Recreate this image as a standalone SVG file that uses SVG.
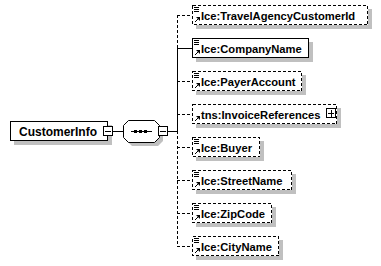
<svg xmlns="http://www.w3.org/2000/svg" width="381" height="266" viewBox="0 0 381 266">
<defs>
<style>
.shadow{fill:#c0c0c0;stroke:none}
.box{fill:#fff;stroke:#000;stroke-width:1;shape-rendering:crispEdges}
.opt{stroke-dasharray:3,2}
.ln{stroke:#000;stroke-width:1;fill:none;shape-rendering:crispEdges}
.dash{stroke-dasharray:3,2}
.lbl{font-family:"Liberation Sans",Arial,sans-serif;font-weight:bold;font-size:11.2px;fill:#000}
.ic{stroke:#000;stroke-width:1;fill:none;shape-rendering:crispEdges}
</style>
<g id="doc-icon"><path class="ic" d="M2,2.5h5M2,4.5h5M2,6.5h5"/></g>
<g id="ref-icon"><path class="ic" d="M2.5,17.5l4,-4"/><path d="M4,12h4v4z" fill="#000"/></g>
<g id="minus"><rect x="0.5" y="0.5" width="9" height="9" fill="#fff" stroke="#000" shape-rendering="crispEdges"/><path d="M2,5.5h6" stroke="#000" shape-rendering="crispEdges"/></g>
</defs>
<rect width="381" height="266" fill="#fff"/>

<g id="connectors">
<path class="ln" d="M113,131.5H123"/>
<path class="ln" d="M168,131.5H177"/>
<path class="ln dash" d="M177.5,15V48"/>
<path class="ln" d="M177.5,48V131"/>
<path class="ln dash" d="M177.5,131V246.5"/>
<path class="ln dash" d="M177,15.5H192"/>
<path class="ln" d="M177,48.5H192"/>
<path class="ln dash" d="M177,81.5H192"/>
<path class="ln dash" d="M177,114.5H192"/>
<path class="ln dash" d="M177,147.5H192"/>
<path class="ln dash" d="M177,180.5H192"/>
<path class="ln dash" d="M177,213.5H192"/>
<path class="ln dash" d="M177,246.5H192"/>
</g>

<g id="node-CustomerInfo">
<rect class="shadow" x="14" y="125" width="98" height="20"/>
<rect class="box" x="10.5" y="121.5" width="97" height="19"/>
<text class="lbl" x="19" y="135.5" style="font-size:12px">CustomerInfo</text>
<use href="#minus" x="103" y="126"/>
</g>

<g id="node-sequence">
<polygon class="shadow" points="132,124 158,124 163,129 163,141 158,146 132,146 127,141 127,129"/>
<polygon points="128.5,120.5 154.5,120.5 159.5,125.5 159.5,137.5 154.5,142.5 128.5,142.5 123.5,137.5 123.5,125.5" fill="#fff" stroke="#000"/>
<path class="ln" d="M131,131.5H152"/>
<rect x="134" y="130" width="3" height="3" fill="#000"/>
<rect x="139" y="130" width="3" height="3" fill="#000"/>
<rect x="144" y="130" width="3" height="3" fill="#000"/>
<use href="#minus" x="158" y="126"/>
</g>

<g id="node-TravelAgencyCustomerId">
<rect class="shadow" x="196" y="9" width="176" height="20"/>
<rect class="box opt" x="192.5" y="5.5" width="175" height="19"/>
<use href="#doc-icon" x="192" y="5"/><use href="#ref-icon" x="192" y="5"/>
<text class="lbl" x="201" y="19.5">Ice:TravelAgencyCustomerId</text>
</g>

<g id="node-CompanyName">
<rect class="shadow" x="196" y="42" width="117" height="20"/>
<rect class="box" x="192.5" y="38.5" width="116" height="19"/>
<use href="#doc-icon" x="192" y="38"/><use href="#ref-icon" x="192" y="38"/>
<text class="lbl" x="201" y="52.5">Ice:CompanyName</text>
</g>

<g id="node-PayerAccount">
<rect class="shadow" x="196" y="75" width="110" height="20"/>
<rect class="box opt" x="192.5" y="71.5" width="109" height="19"/>
<use href="#doc-icon" x="192" y="71"/><use href="#ref-icon" x="192" y="71"/>
<text class="lbl" x="201" y="85.5">Ice:PayerAccount</text>
</g>

<g id="node-InvoiceReferences">
<rect class="shadow" x="196" y="108" width="145" height="20"/>
<rect class="box opt" x="192.5" y="104.5" width="144" height="19"/>
<use href="#ref-icon" x="192" y="104"/>
<text class="lbl" x="201" y="118.5">tns:InvoiceReferences</text>
<rect x="326.5" y="108.5" width="9" height="9" fill="#fff" stroke="#000" shape-rendering="crispEdges"/>
<path d="M328,113.5h6M331.5,110v7" stroke="#000" shape-rendering="crispEdges"/>
</g>

<g id="node-Buyer">
<rect class="shadow" x="196" y="141" width="68" height="20"/>
<rect class="box opt" x="192.5" y="137.5" width="67" height="19"/>
<use href="#doc-icon" x="192" y="137"/><use href="#ref-icon" x="192" y="137"/>
<text class="lbl" x="201" y="151.5">Ice:Buyer</text>
</g>

<g id="node-StreetName">
<rect class="shadow" x="196" y="174" width="100" height="20"/>
<rect class="box opt" x="192.5" y="170.5" width="99" height="19"/>
<use href="#doc-icon" x="192" y="170"/><use href="#ref-icon" x="192" y="170"/>
<text class="lbl" x="201" y="184.5">Ice:StreetName</text>
</g>

<g id="node-ZipCode">
<rect class="shadow" x="196" y="207" width="80" height="20"/>
<rect class="box opt" x="192.5" y="203.5" width="79" height="19"/>
<use href="#doc-icon" x="192" y="203"/><use href="#ref-icon" x="192" y="203"/>
<text class="lbl" x="201" y="217.5">Ice:ZipCode</text>
</g>

<g id="node-CityName">
<rect class="shadow" x="196" y="240" width="87" height="20"/>
<rect class="box opt" x="192.5" y="236.5" width="86" height="19"/>
<use href="#doc-icon" x="192" y="236"/><use href="#ref-icon" x="192" y="236"/>
<text class="lbl" x="201" y="250.5">Ice:CityName</text>
</g>
</svg>
